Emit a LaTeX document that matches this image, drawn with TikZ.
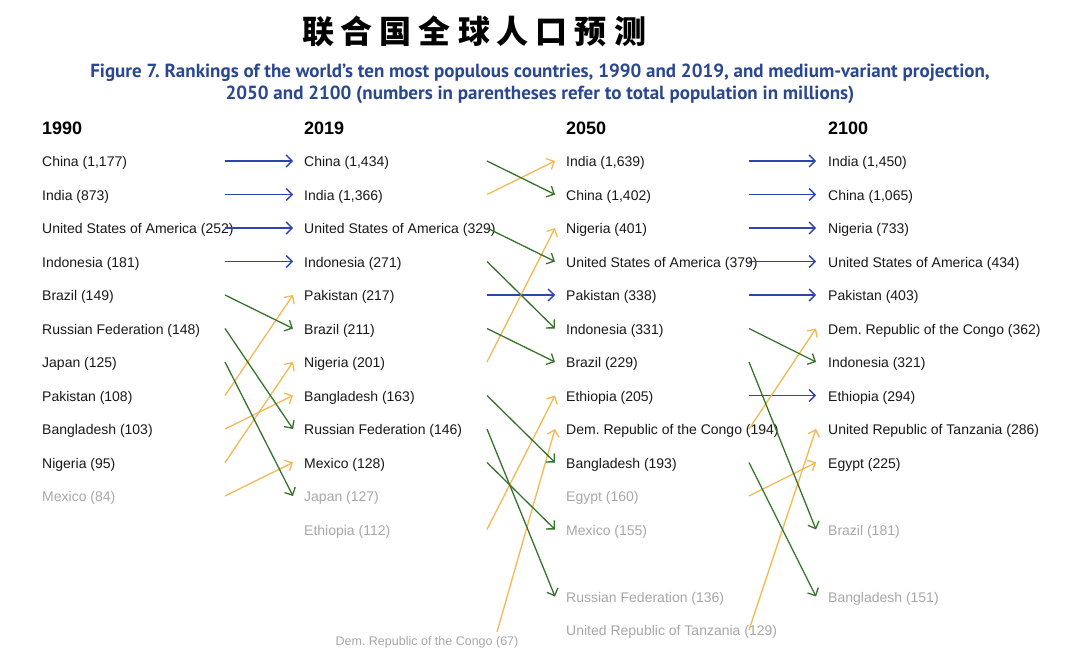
\documentclass[tikz,border=0pt]{standalone}
\usepackage{fontspec}
\setmainfont{Liberation Sans}
\newfontfamily\cjkfont{Noto Sans CJK SC}
\newfontfamily\subfont{PT Sans}
\usetikzlibrary{arrows.meta}
\definecolor{arrblue}{RGB}{45,70,175}
\definecolor{arrgreen}{RGB}{55,115,45}
\definecolor{arrorange}{RGB}{242,185,85}
\definecolor{fadetext}{RGB}{168,168,168}
\definecolor{subblue}{RGB}{42,72,145}
\definecolor{itemtext}{RGB}{25,25,25}
\frenchspacing
\tikzset{
  item/.style={anchor=west, inner sep=0pt, yshift=-2pt, font=\fontsize{14}{16}\selectfont, text=itemtext},
  faded/.style={item, text=fadetext},
  yearhead/.style={anchor=west, inner sep=0pt, font=\fontsize{18}{20}\selectfont\bfseries},
  conn/.style={line width=1.3pt, -{Straight Barb[length=6pt,width=12pt]}},
  same/.style={conn, draw=arrblue},
  down/.style={conn, draw=arrgreen},
  up/.style={conn, draw=arrorange},
}
\begin{document}
\begin{tikzpicture}[x=1pt,y=-1pt]
\fill[white] (0,0) rectangle (1080,663);
\useasboundingbox (0,0) rectangle (1080,663);

% title
\node[inner sep=0pt] (title) at (474,31) {\cjkfont\bfseries\fontsize{32}{34}\selectfont 联\hspace{7pt}合\hspace{7pt}国\hspace{7pt}全\hspace{7pt}球\hspace{7pt}人\hspace{7pt}口\hspace{7pt}预\hspace{7pt}测};
\node[inner sep=0pt, text=subblue, align=center, font=\subfont\bfseries\fontsize{19}{21.5}\selectfont] (sub) at (540,84)
  {Figure 7. Rankings of the world’s ten most populous countries, 1990 and 2019, and medium-variant projection,\\
   2050 and 2100 (numbers in parentheses refer to total population in millions)};

% headers
\node[yearhead] (hA) at (42,128) {1990};
\node[yearhead] (hB) at (304,128) {2019};
\node[yearhead] (hC) at (566,128) {2050};
\node[yearhead] (hD) at (828,128) {2100};

% connector end coordinates
\foreach \i in {0,...,14}{
  \coordinate (Ao\i) at (225,{161+33.5*\i});
  \coordinate (Bi\i) at (293,{161+33.5*\i});
  \coordinate (Bo\i) at (487,{161+33.5*\i});
  \coordinate (Ci\i) at (555,{161+33.5*\i});
  \coordinate (Co\i) at (749,{161+33.5*\i});
  \coordinate (Di\i) at (816,{161+33.5*\i});
}

% 1990
\node[item] (a0) at (42,161) {China (1,177)};
\node[item] (a1) at (42,194.5) {India (873)};
\node[item] (a2) at (42,228) {United States of America (252)};
\node[item] (a3) at (42,261.5) {Indonesia (181)};
\node[item] (a4) at (42,295) {Brazil (149)};
\node[item] (a5) at (42,328.5) {Russian Federation (148)};
\node[item] (a6) at (42,362) {Japan (125)};
\node[item] (a7) at (42,395.5) {Pakistan (108)};
\node[item] (a8) at (42,429) {Bangladesh (103)};
\node[item] (a9) at (42,462.5) {Nigeria (95)};
\node[faded] (a10) at (42,496) {Mexico (84)};

% 2019
\node[item] (b0) at (304,161) {China (1,434)};
\node[item] (b1) at (304,194.5) {India (1,366)};
\node[item] (b2) at (304,228) {United States of America (329)};
\node[item] (b3) at (304,261.5) {Indonesia (271)};
\node[item] (b4) at (304,295) {Pakistan (217)};
\node[item] (b5) at (304,328.5) {Brazil (211)};
\node[item] (b6) at (304,362) {Nigeria (201)};
\node[item] (b7) at (304,395.5) {Bangladesh (163)};
\node[item] (b8) at (304,429) {Russian Federation (146)};
\node[item] (b9) at (304,462.5) {Mexico (128)};
\node[faded] (b10) at (304,496) {Japan (127)};
\node[faded] (b11) at (304,529.5) {Ethiopia (112)};
\node[faded, anchor=center, font=\fontsize{12.5}{14}\selectfont] (bDRC) at (427,640) {Dem. Republic of the Congo (67)};
\coordinate (bDRCo) at (497,632);

% 2050
\node[item] (c0) at (566,161) {India (1,639)};
\node[item] (c1) at (566,194.5) {China (1,402)};
\node[item] (c2) at (566,228) {Nigeria (401)};
\node[item] (c3) at (566,261.5) {United States of America (379)};
\node[item] (c4) at (566,295) {Pakistan (338)};
\node[item] (c5) at (566,328.5) {Indonesia (331)};
\node[item] (c6) at (566,362) {Brazil (229)};
\node[item] (c7) at (566,395.5) {Ethiopia (205)};
\node[item] (c8) at (566,429) {Dem. Republic of the Congo (194)};
\node[item] (c9) at (566,462.5) {Bangladesh (193)};
\node[faded] (c10) at (566,496) {Egypt (160)};
\node[faded] (c11) at (566,529.5) {Mexico (155)};
\node[faded] (c13) at (566,596.5) {Russian Federation (136)};
\node[faded] (c14) at (566,630) {United Republic of Tanzania (129)};

% 2100
\node[item] (d0) at (828,161) {India (1,450)};
\node[item] (d1) at (828,194.5) {China (1,065)};
\node[item] (d2) at (828,228) {Nigeria (733)};
\node[item] (d3) at (828,261.5) {United States of America (434)};
\node[item] (d4) at (828,295) {Pakistan (403)};
\node[item] (d5) at (828,328.5) {Dem. Republic of the Congo (362)};
\node[item] (d6) at (828,362) {Indonesia (321)};
\node[item] (d7) at (828,395.5) {Ethiopia (294)};
\node[item] (d8) at (828,429) {United Republic of Tanzania (286)};
\node[item] (d9) at (828,462.5) {Egypt (225)};
\node[faded] (d11) at (828,529.5) {Brazil (181)};
\node[faded] (d13) at (828,596.5) {Bangladesh (151)};

% 1990 -> 2019
\draw[same] (Ao0) -- (Bi0);
\draw[same] (Ao1) -- (Bi1);
\draw[same] (Ao2) -- (Bi2);
\draw[same] (Ao3) -- (Bi3);
\draw[up] (Ao7) -- (Bi4);
\draw[up] (Ao8) -- (Bi7);
\draw[up] (Ao9) -- (Bi6);
\draw[up] (Ao10) -- (Bi9);
\draw[down] (Ao4) -- (Bi5);
\draw[down] (Ao5) -- (Bi8);
\draw[down] (Ao6) -- (Bi10);

% 2019 -> 2050
\draw[same] (Bo4) -- (Ci4);
\draw[up] (Bo1) -- (Ci0);
\draw[up] (Bo6) -- (Ci2);
\draw[up] (Bo11) -- (Ci7);
\draw[up] (bDRCo) -- (Ci8);
\draw[down] (Bo0) -- (Ci1);
\draw[down] (Bo2) -- (Ci3);
\draw[down] (Bo3) -- (Ci5);
\draw[down] (Bo5) -- (Ci6);
\draw[down] (Bo7) -- (Ci9);
\draw[down] (Bo8) -- (Ci13);
\draw[down] (Bo9) -- (Ci11);

% 2050 -> 2100
\draw[same] (Co0) -- (Di0);
\draw[same] (Co1) -- (Di1);
\draw[same] (Co2) -- (Di2);
\draw[same] (Co3) -- (Di3);
\draw[same] (Co4) -- (Di4);
\draw[same] (Co7) -- (Di7);
\draw[up] (Co8) -- (Di5);
\draw[up] (Co10) -- (Di9);
\draw[up] (Co14) -- (Di8);
\draw[down] (Co5) -- (Di6);
\draw[down] (Co6) -- (Di11);
\draw[down] (Co9) -- (Di13);
\end{tikzpicture}
\end{document}
